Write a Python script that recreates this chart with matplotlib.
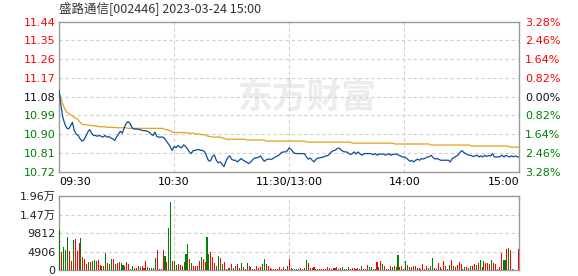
import numpy as np
import matplotlib.pyplot as plt

plt.rcParams['font.family'] = ['DejaVu Sans', 'Noto Sans CJK SC']

title = '盛路通信[002446] 2023-03-24 15:00'
pre_close = 11.08

# minute-by-minute price, 09:30 .. 11:30 / 13:00 .. 15:00 (241 points)
price = [
    11.11, 11.04, 10.98, 10.95, 10.93, 10.925, 10.94, 10.957, 10.917, 10.90,
    10.894, 10.878, 10.867, 10.873, 10.89, 10.91, 10.922, 10.905, 10.894, 10.894,
    10.89, 10.894, 10.89, 10.886, 10.894, 10.886, 10.889, 10.882, 10.878, 10.87,
    10.886, 10.90, 10.914, 10.905, 10.93, 10.952, 10.96, 10.952, 10.933, 10.925,
    10.925, 10.925, 10.922, 10.92, 10.917, 10.917, 10.914, 10.91, 10.90, 10.894,
    10.91, 10.889, 10.886, 10.886, 10.886, 10.881, 10.867, 10.854, 10.841, 10.822,
    10.841, 10.835, 10.846, 10.838, 10.835, 10.849, 10.841, 10.83, 10.815, 10.807,
    10.822, 10.822, 10.826, 10.826, 10.822, 10.822, 10.815, 10.794, 10.772, 10.772,
    10.794, 10.80, 10.775, 10.763, 10.767, 10.756, 10.744, 10.77, 10.788, 10.796,
    10.78, 10.775, 10.775, 10.767, 10.775, 10.783, 10.775, 10.77, 10.764, 10.759,
    10.767, 10.778, 10.786, 10.786, 10.789, 10.796, 10.783, 10.77, 10.777, 10.78,
    10.78, 10.78, 10.786, 10.791, 10.796, 10.802, 10.812, 10.815, 10.815, 10.82,
    10.834, 10.827, 10.815, 10.808, 10.807, 10.807, 10.807, 10.807, 10.806, 10.791,
    10.78, 10.786, 10.775, 10.767, 10.78, 10.786, 10.786, 10.789, 10.791, 10.796,
    10.796, 10.805, 10.815, 10.821, 10.823, 10.831, 10.834, 10.826, 10.818, 10.815,
    10.815, 10.808, 10.802, 10.808, 10.815, 10.805, 10.815, 10.805, 10.799, 10.807,
    10.807, 10.807, 10.807, 10.805, 10.802, 10.807, 10.799, 10.805, 10.804, 10.805,
    10.80, 10.802, 10.807, 10.799, 10.802, 10.805, 10.804, 10.80, 10.796, 10.791,
    10.791, 10.786, 10.778, 10.77, 10.774, 10.767, 10.775, 10.78, 10.775, 10.783,
    10.781, 10.785, 10.791, 10.791, 10.799, 10.789, 10.781, 10.783, 10.78, 10.775,
    10.775, 10.775, 10.775, 10.775, 10.767, 10.783, 10.788, 10.794, 10.799, 10.812,
    10.821, 10.813, 10.807, 10.802, 10.799, 10.797, 10.793, 10.796, 10.799, 10.791,
    10.796, 10.791, 10.799, 10.793, 10.797, 10.796, 10.807, 10.791, 10.791, 10.791,
    10.793, 10.799, 10.791, 10.799, 10.794, 10.791, 10.796, 10.791, 10.796, 10.791,
    10.791,
]

# running average price
avg_price = [
    11.10, 11.075, 11.044, 11.022, 11.006, 11.0, 10.993, 10.988, 10.98, 10.977,
    10.969, 10.957, 10.949, 10.946, 10.946, 10.944, 10.943, 10.941, 10.941, 10.94,
    10.938, 10.936, 10.936, 10.936, 10.936, 10.933, 10.933, 10.933, 10.933, 10.933,
    10.931, 10.931, 10.931, 10.931, 10.931, 10.931, 10.928, 10.928, 10.928, 10.928,
    10.928, 10.928, 10.928, 10.928, 10.928, 10.928, 10.928, 10.928, 10.928, 10.928,
    10.928, 10.928, 10.928, 10.928, 10.928, 10.924, 10.922, 10.919, 10.916, 10.911,
    10.909, 10.908, 10.908, 10.908, 10.908, 10.908, 10.908, 10.905, 10.905, 10.905,
    10.905, 10.901, 10.901, 10.901, 10.898, 10.898, 10.898, 10.892, 10.89, 10.888,
    10.886, 10.886, 10.886, 10.886, 10.886, 10.881, 10.881, 10.876, 10.876, 10.876,
    10.876, 10.876, 10.876, 10.876, 10.876, 10.876, 10.876, 10.876, 10.872, 10.872,
    10.872, 10.872, 10.872, 10.872, 10.872, 10.872, 10.872, 10.872, 10.867, 10.867,
    10.867, 10.867, 10.867, 10.867, 10.867, 10.867, 10.867, 10.867, 10.867, 10.867,
    10.867, 10.867, 10.867, 10.867, 10.867, 10.867, 10.867, 10.867, 10.867, 10.862,
    10.862, 10.862, 10.862, 10.862, 10.862, 10.862, 10.862, 10.862, 10.862, 10.862,
    10.862, 10.862, 10.862, 10.862, 10.862, 10.862, 10.862, 10.862, 10.862, 10.862,
    10.862, 10.862, 10.862, 10.857, 10.857, 10.857, 10.857, 10.857, 10.857, 10.857,
    10.857, 10.857, 10.857, 10.857, 10.857, 10.857, 10.857, 10.857, 10.857, 10.857,
    10.857, 10.857, 10.857, 10.857, 10.857, 10.853, 10.853, 10.853, 10.853, 10.853,
    10.853, 10.853, 10.853, 10.853, 10.853, 10.853, 10.853, 10.853, 10.853, 10.853,
    10.853, 10.853, 10.853, 10.853, 10.848, 10.848, 10.848, 10.848, 10.848, 10.848,
    10.848, 10.848, 10.848, 10.848, 10.848, 10.848, 10.848, 10.848, 10.848, 10.848,
    10.848, 10.848, 10.848, 10.848, 10.848, 10.843, 10.843, 10.843, 10.843, 10.843,
    10.843, 10.843, 10.843, 10.843, 10.843, 10.843, 10.843, 10.843, 10.843, 10.843,
    10.843, 10.843, 10.843, 10.843, 10.843, 10.838, 10.838, 10.838, 10.838, 10.838,
    10.838,
]

# volume per minute (shares / 100)
volume = [
    10700, 4770, 6100, 5390, 8750, 5040, 2390, 8040, 8310, 5040,
    7160, 8570, 3450, 2920, 1680, 2120, 2200, 2560, 2740, 2560,
    2740, 1410, 1150, 1150, 4510, 1940, 1680, 2920, 2920, 1680,
    1940, 2120, 1860, 1410, 1150, 2120, 1680, 440, 1060, 530,
    620, 1150, 970, 1150, 530, 2390, 800, 620, 620, 620,
    3270, 5390, 265, 265, 5390, 3800, 2120, 11230, 18030, 2480,
    2480, 1410, 1590, 1410, 1240, 2120, 4330, 6980, 3000, 1860,
    1150, 1150, 1150, 2390, 3450, 2920, 2120, 8750, 4330, 4770,
    3450,
    1940, 1150, 3800, 3270, 1680, 2210, 350, 620, 620, 1680,
    620, 1150, 1680, 620, 1940, 800, 350, 1940, 1150, 880,
    350, 350, 1150, 620, 880, 1680, 3000, 1680, 1150, 620,
    350, 350, 350, 350, 880, 350, 880, 350, 1150, 3000,
    620, 350, 350, 350, 350, 620, 350, 620, 2740, 1940,
    620, 620, 880, 350, 350, 350, 350, 350, 350, 880,
    620, 350, 620, 620, 880, 350, 620, 880, 350, 350,
    880, 350, 620, 620, 350, 620, 350, 1150, 350, 350,
    1500, 880, 880, 350, 350, 2210, 880, 2480, 1680, 1150,
    350, 350, 1150, 880, 1150, 880, 4070, 880, 1150, 350,
    2480, 1410, 880, 880, 1150, 1150, 620, 620, 350, 1680,
    350, 1150, 620, 1150, 3270, 620, 350, 1940, 880, 350,
    2480, 1150, 350, 1410, 2740, 1150, 880, 1410, 2210, 1680,
    350, 880, 880, 620, 1150, 1150, 1680, 1410, 1940, 2740,
    880, 2480, 1940, 1940, 1680, 2740, 1940, 1680, 350, 880,
    4600, 2740, 2740, 5660, 5920, 5390, 350, 0, 0, 5650,
]
# R = up tick (red), G = down tick (green)
vol_dir = (
    "GRGGGRRGRR" "RGRRRGRGGR" "RGRRGRGGRG" "RRGGRRRGGR" "RRGRRRGGRG"
    "GRRRRGRGGR" "GGRRRGGGRG" "RRRRGRRGGR" "R"
    "RGGRGRRGGR" "RGRRGRRGRR" "RRRRRGGRRR" "RRRRRRRRGR"
    "RGGGGRGRGR" "RGRRRRRRRR" "RRGRRGRGRG" "GRRRRRRGRG"
    "RGGRRRGRGR" "GRRGRGGRRR" "GGRRGRRRGR" "GRRGGRRRGR"
    "RRGGRGRRRR" "GGRRGRRGRG" "RGRRRGRRRR" "RGGRGRGRRR"
)

price_ticks = [10.72, 10.81, 10.90, 10.99, 11.08, 11.17, 11.26, 11.35, 11.44]
pct_labels = ['3.28%', '2.46%', '1.64%', '0.82%', '0.00%', '0.82%', '1.64%', '2.46%', '3.28%']
time_pos = [0, 60, 120, 180, 240]
time_labels = ['09:30', '10:30', '11:30/13:00', '14:00', '15:00']
vol_ticks = [0, 4906, 9812, 14718, 19624]
vol_labels = ['0', '4906', '9812', '1.47万', '1.96万']

RED, GREEN, DARK = '#ff0000', '#008000', '#0a0a28'
GRID = '#cfcfcf'
SPINE = '#999999'
W, H = 578, 276

fig = plt.figure(figsize=(W / 100, H / 100), dpi=100, facecolor='w')
ax = fig.add_axes([59 / W, 1 - 171.7 / H, 460.3 / W, 150 / H])
axv = fig.add_axes([59 / W, 1 - 270.3 / H, 460.3 / W, 74 / H])

minutes = np.arange(len(price))

# watermark
ax.text(0.54, 0.50, '东方财富', transform=ax.transAxes, ha='center', va='center',
        fontsize=25, fontweight='bold', color='#ececec', family=['Noto Sans CJK SC'], zorder=0)

ax.plot(minutes, avg_price, color='#e3a21a', lw=0.9, zorder=3)
ax.plot(minutes, price, color='#0f4c9e', lw=0.9, zorder=4)
ax.set_xlim(0, 240)
ax.set_ylim(price_ticks[0], price_ticks[-1])

for a in (ax, axv):
    for sp in a.spines.values():
        sp.set_color(SPINE)
        sp.set_linewidth(1.0)
    a.tick_params(length=0)

ax.set_yticks(price_ticks)
ax.set_yticklabels(['%.2f' % t for t in price_ticks], fontsize=8)
ax.tick_params(axis='y', pad=2.5)
for lab, t in zip(ax.get_yticklabels(), price_ticks):
    lab.set_color(RED if t > pre_close + 1e-9 else (GREEN if t < pre_close - 1e-9 else DARK))

ax.set_xticks(time_pos)
ax.set_xticklabels(time_labels, fontsize=8)
ax.tick_params(axis='x', pad=4)
xl = ax.get_xticklabels()
xl[0].set_horizontalalignment('left')
xl[-1].set_horizontalalignment('right')

ax2 = ax.twinx()
ax2.set_ylim(ax.get_ylim())
ax2.set_yticks(price_ticks)
ax2.set_yticklabels(pct_labels, fontsize=8)
ax2.tick_params(length=0, pad=4)
for sp in ax2.spines.values():
    sp.set_visible(False)
for lab, t in zip(ax2.get_yticklabels(), price_ticks):
    lab.set_color(RED if t > pre_close + 1e-9 else (GREEN if t < pre_close - 1e-9 else DARK))

for t in price_ticks[1:-1]:
    ax.axhline(t, color=GRID, lw=0.8, ls=(0, (3, 2.5)), zorder=1)
for t in time_pos[1:-1]:
    ax.axvline(t, color=GRID, lw=0.8, ls=(0, (3, 2.5)), zorder=1)

# volume
vol_colors = [RED if d == 'R' else GREEN for d in vol_dir]
axv.bar(minutes, volume, width=0.55, color=vol_colors, linewidth=0, zorder=3)
axv.set_xlim(-0.5, 240.5)
axv.set_ylim(vol_ticks[0], vol_ticks[-1])
axv.set_xticks([])
axv.set_yticks(vol_ticks)
axv.set_yticklabels(vol_labels, fontsize=8, color='#222222')
axv.tick_params(axis='y', pad=2.5)
for t in vol_ticks[1:-1]:
    axv.axhline(t, color=GRID, lw=0.8, ls=(0, (3, 2.5)), zorder=1)
for t in time_pos[1:-1]:
    axv.axvline(t * 241 / 240 - 0.5, color=GRID, lw=0.8, ls=(0, (3, 2.5)), zorder=1)

fig.text(59 / W, 1 - 9.5 / H, title, ha='left', va='center', fontsize=9,
         color='#333333', family=['Noto Sans CJK SC', 'DejaVu Sans'])

fig.savefig('out.png', dpi=100, facecolor='w')
